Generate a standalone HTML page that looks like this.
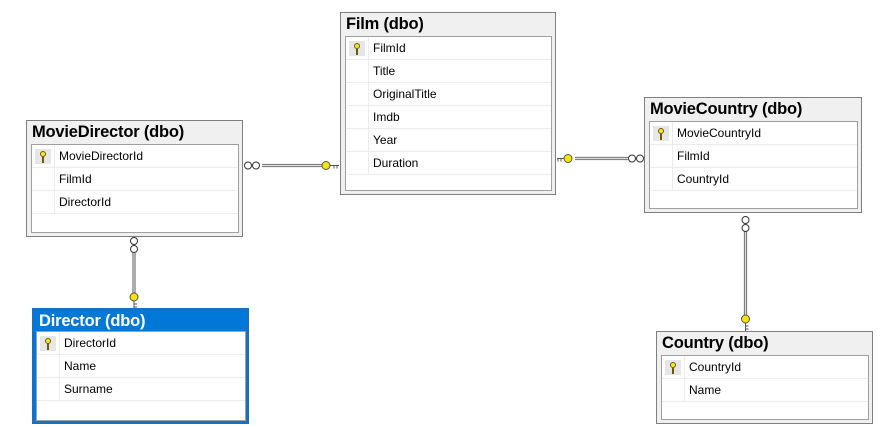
<!DOCTYPE html>
<html><head><meta charset="utf-8"><style>
body{margin:0;width:883px;height:427px;background:#fff;position:relative;overflow:hidden;font-family:"Liberation Sans",sans-serif}
.t{position:absolute;border:1px solid #7f7f7f;background:#f0f0f0;box-sizing:border-box}
.t .h{position:absolute;left:5px;top:2px;font-weight:bold;font-size:16.5px;color:#000;white-space:nowrap;letter-spacing:-0.2px}
.t .in{position:absolute;left:4px;right:3px;top:23px;bottom:3px;border:1px solid #a0a0a0;background:#fff}
.r{height:22px;border-bottom:1px solid #ececec;position:relative;font-size:12px;line-height:23px}
.r span{position:absolute;left:27px}
.r:before{content:"";position:absolute;left:22px;top:0;bottom:-1px;border-left:1px solid #ececec}
.k{position:absolute;left:3px;top:4px;width:16px;height:15px;background:#e6e6e6}
.k:after{content:"";position:absolute;left:5px;top:2px;width:4px;height:4px;border:1.5px solid #6b5a00;border-radius:50%;background:#f5e23a}
.k:before{content:"";position:absolute;left:7px;top:8px;width:2px;height:6px;background:#6b5a00}
.blue{border:2px solid #1a6fbf;background:#0078d7}
.blue .h{color:#fff;top:2px}
.blue .in{left:2px;right:1px;top:21px;bottom:1px}
</style></head><body>
<svg width="883" height="427" style="position:absolute;left:0;top:0">
<g stroke="#808080" fill="none">
<path d="M262 164.5H322M262 166.5H322" stroke-width="1.3"/>
<path d="M575 157.5H628M575 159.5H628" stroke-width="1.3"/>
<path d="M133 253V294M135 253V294" stroke-width="1.3"/>
<path d="M744.5 231V316M746.5 231V316" stroke-width="1.3"/>
</g>
<g stroke="#333" fill="#fff" stroke-width="1">
<circle cx="248" cy="165.5" r="3.5"/><circle cx="256" cy="165.5" r="3.5"/>
<circle cx="632" cy="158.5" r="3.5"/><circle cx="640" cy="158.5" r="3.5"/>
<circle cx="134" cy="241" r="3.5"/><circle cx="134" cy="249" r="3.5"/>
<circle cx="745.5" cy="220" r="3.5"/><circle cx="745.5" cy="228" r="3.5"/>
</g>
<g stroke="#555" fill="#f2e600" stroke-width="1">
<circle cx="326" cy="165.5" r="4"/><path d="M330 165.5H339M334 165.5v3M337 165.5v3"/>
<circle cx="568" cy="158.5" r="4"/><path d="M564 158.5H557M561 158.5v3M558 158.5v3"/>
<circle cx="134" cy="297" r="4"/><path d="M134 301V308M134 304h3M134 307h3"/>
<circle cx="745.5" cy="319" r="4"/><path d="M745.5 323V331M745.5 326h3M745.5 329h3"/>
</g>
</svg>

<div class="t" style="left:26px;top:120px;width:217px;height:117px"><div class="h">MovieDirector (dbo)</div>
<div class="in"><div class="r"><i class="k"></i><span>MovieDirectorId</span></div><div class="r"><span>FilmId</span></div><div class="r"><span>DirectorId</span></div></div></div>

<div class="t" style="left:340px;top:12px;width:216px;height:183px"><div class="h">Film (dbo)</div>
<div class="in"><div class="r"><i class="k"></i><span>FilmId</span></div><div class="r"><span>Title</span></div><div class="r"><span>OriginalTitle</span></div><div class="r"><span>Imdb</span></div><div class="r"><span>Year</span></div><div class="r"><span>Duration</span></div></div></div>

<div class="t" style="left:644px;top:97px;width:218px;height:116px"><div class="h">MovieCountry (dbo)</div>
<div class="in"><div class="r"><i class="k"></i><span>MovieCountryId</span></div><div class="r"><span>FilmId</span></div><div class="r"><span>CountryId</span></div></div></div>

<div class="t blue" style="left:32px;top:308px;width:217px;height:116px"><div class="h">Director (dbo)</div>
<div class="in"><div class="r"><i class="k"></i><span>DirectorId</span></div><div class="r"><span>Name</span></div><div class="r"><span>Surname</span></div></div></div>

<div class="t" style="left:656px;top:331px;width:217px;height:93px"><div class="h">Country (dbo)</div>
<div class="in"><div class="r"><i class="k"></i><span>CountryId</span></div><div class="r"><span>Name</span></div></div></div>
</body></html>
